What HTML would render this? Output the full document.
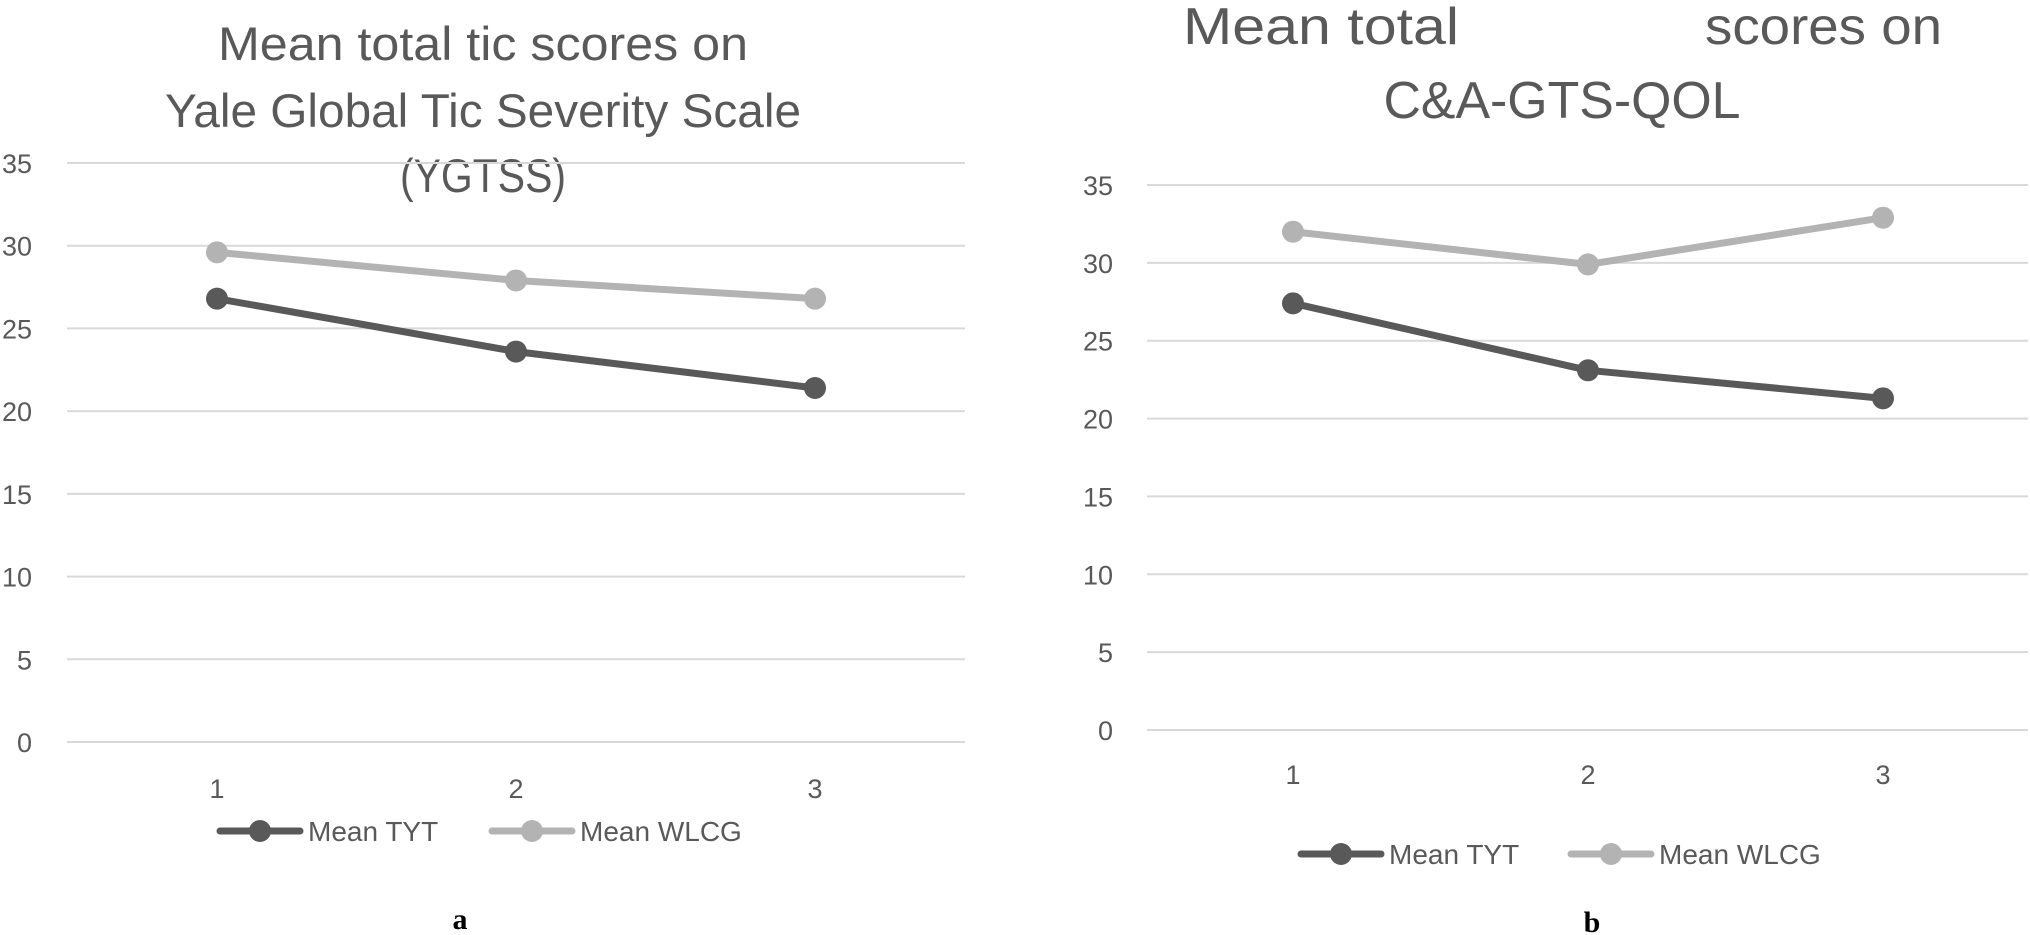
<!DOCTYPE html>
<html><head><meta charset="utf-8"><style>
body{margin:0;background:#fff;}
svg{display:block;font-family:"Liberation Sans",sans-serif;}
</style></head><body>
<svg id="chart" width="2030" height="935" viewBox="0 0 2030 935">
<g id="pa">
<text x="483" y="60" font-size="47" fill="#595959" text-anchor="middle" textLength="530" lengthAdjust="spacingAndGlyphs">Mean total tic scores on</text>
<text x="483" y="127" font-size="47" fill="#595959" text-anchor="middle" textLength="636" lengthAdjust="spacingAndGlyphs">Yale Global Tic Severity Scale</text>
<text x="483" y="192" font-size="47" fill="#595959" text-anchor="middle" textLength="166" lengthAdjust="spacingAndGlyphs">(YGTSS)</text>
</g>
<g id="pb">
<text x="1183" y="44" font-size="52" fill="#595959" textLength="276" lengthAdjust="spacingAndGlyphs">Mean total</text>
<text x="1705" y="44" font-size="52" fill="#595959" textLength="237" lengthAdjust="spacingAndGlyphs">scores on</text>
<text x="1562" y="118" font-size="52" fill="#595959" text-anchor="middle" textLength="357" lengthAdjust="spacingAndGlyphs">C&amp;A-GTS-QOL</text>
</g>
<text x="460" y="929" font-size="30" font-weight="bold" font-family="Liberation Serif,serif" text-anchor="middle" fill="#000">a</text>
<text x="1592" y="932" font-size="30" font-weight="bold" font-family="Liberation Serif,serif" text-anchor="middle" fill="#000">b</text>
</svg>
<script>
const categories = ["1","2","3"];
const yTicks = [0,5,10,15,20,25,30,35];
const aTYT = [26.8, 23.6, 21.4];
const aWLCG = [29.6, 27.9, 26.8];
const bTYT = [27.4, 23.1, 21.3];
const bWLCG = [32.0, 29.9, 32.9];

const NS = "http://www.w3.org/2000/svg";
function mk(tag, attrs, parent, txt){
  const e = document.createElementNS(NS, tag);
  for (const k in attrs) e.setAttribute(k, attrs[k]);
  if (txt !== undefined) e.textContent = txt;
  parent.appendChild(e);
  return e;
}
const DARK = "#595959", LIGHT = "#b3b3b3";

function panel(g, cfg, tyt, wlcg){
  const y = v => cfg.y0 - (v / 35) * (cfg.y0 - cfg.y35);
  const x = i => cfg.cx[0] + i * (cfg.cx[2] - cfg.cx[0]) / 2;
  yTicks.forEach(t => {
    const l = mk("line", {x1: cfg.gx1, x2: cfg.gx2, y1: y(t), y2: y(t), stroke: "#d9d9d9", "stroke-width": 2}, g);
    
    
    const tx = mk("text", {x: cfg.lx, y: y(t) + 10, "font-size": 27, fill: DARK, "text-anchor": "end"}, g, String(t));
    
    
  });
  categories.forEach((c, i) => {
    const tx = mk("text", {x: x(i), y: cfg.xly, "font-size": 27, fill: DARK, "text-anchor": "middle"}, g, c);
    
    
  });
  [[wlcg, LIGHT, "series-wlcg"], [tyt, DARK, "series-tyt"]].forEach(([vals, col, name]) => {
    const pl = mk("polyline", {points: vals.map((v, i) => x(i) + "," + y(v)).join(" "), fill: "none", stroke: col, "stroke-width": 7, "stroke-linejoin": "round"}, g);
    
    
    vals.forEach((v, i) => {
      const c = mk("circle", {cx: x(i), cy: y(v), r: 11, fill: col}, g);
      
      
    });
  });
  [[cfg.leg[0], DARK, "Mean TYT", "legend-entry-tyt"], [cfg.leg[1], LIGHT, "Mean WLCG", "legend-entry-wlcg"]].forEach(([lx, col, label, name]) => {
    const lg = mk("g", {}, g);
    
    
    mk("line", {x1: lx, x2: lx + 80, y1: cfg.legy, y2: cfg.legy, stroke: col, "stroke-width": 7, "stroke-linecap": "round"}, lg);
    mk("circle", {cx: lx + 40, cy: cfg.legy, r: 11, fill: col}, lg);
    mk("text", {x: lx + 88, y: cfg.legy + 10, "font-size": 28, fill: DARK}, lg, label);
  });
}
panel(document.getElementById("pa"), {y0: 742, y35: 163, gx1: 67, gx2: 965, cx: [217, 517, 815], lx: 32, xly: 798, legy: 831, leg: [220, 492]}, aTYT, aWLCG);
panel(document.getElementById("pb"), {y0: 730, y35: 185, gx1: 1147, gx2: 2028, cx: [1293, 1588, 1883], lx: 1113, xly: 784, legy: 854, leg: [1301, 1571]}, bTYT, bWLCG);
</script>
</body></html>
